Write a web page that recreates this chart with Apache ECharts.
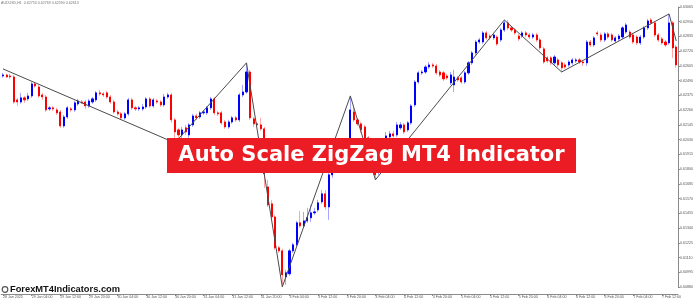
<!DOCTYPE html>
<html>
<head>
<meta charset="utf-8">
<title>Auto Scale ZigZag MT4 Indicator</title>
<script src="https://cdn.jsdelivr.net/npm/echarts@6.0.0/dist/echarts.min.js"></script>
<style>
  html, body { margin: 0; padding: 0; background: #fff; }
  #chart { width: 696px; height: 299px; }
</style>
</head>
<body>
<div id="chart"></div>
<script>
// AUDUSD H1, 28 Jan - 7 Feb 2025
const tickLabels = [
  '28 Jan 2025', '29 Jan 04:00', '29 Jan 12:00', '29 Jan 20:00', '30 Jan 04:00', '30 Jan 12:00',
  '30 Jan 20:00', '31 Jan 04:00', '31 Jan 12:00', '31 Jan 20:00', '3 Feb 04:00', '3 Feb 12:00',
  '3 Feb 20:00', '4 Feb 04:00', '4 Feb 12:00', '4 Feb 20:00', '5 Feb 04:00', '5 Feb 12:00',
  '5 Feb 20:00', '6 Feb 04:00', '6 Feb 12:00', '6 Feb 20:00', '7 Feb 04:00', '7 Feb 12:00',
];

const opens = [
  0.62527, 0.62535, 0.62527, 0.62519, 0.62340, 0.62324, 0.62356, 0.62348, 0.62371, 0.62465,
  0.62441, 0.62379, 0.62363, 0.62270, 0.62278, 0.62262, 0.62246, 0.62137, 0.62207, 0.62270,
  0.62262, 0.62309, 0.62324, 0.62324, 0.62293, 0.62324, 0.62340, 0.62395, 0.62387, 0.62395,
  0.62363, 0.62324, 0.62246, 0.62231, 0.62200, 0.62231, 0.62340, 0.62278, 0.62270, 0.62270,
  0.62285, 0.62348, 0.62293, 0.62332, 0.62324, 0.62301, 0.62363, 0.62379, 0.62184, 0.62106,
  0.62067, 0.62122, 0.62067, 0.62145, 0.62215, 0.62207, 0.62239, 0.62239, 0.62278, 0.62348,
  0.62239, 0.62239, 0.62168, 0.62129, 0.62168, 0.62200, 0.62184, 0.62379, 0.62402, 0.62558,
  0.62192, 0.62153, 0.62145, 0.62114, 0.61661, 0.61529, 0.61427, 0.61186, 0.61162, 0.60959,
  0.60983, 0.61162, 0.61209, 0.61381, 0.61357, 0.61396, 0.61420, 0.61459, 0.61482, 0.61544,
  0.61607, 0.61505, 0.61755, 0.61833, 0.61794, 0.61911, 0.61950, 0.62028, 0.62246, 0.62184,
  0.62153, 0.62129, 0.62044, 0.61950, 0.61833, 0.61778, 0.61888, 0.62012, 0.62051, 0.62075,
  0.62067, 0.62122, 0.62145, 0.62106, 0.62161, 0.62301, 0.62480, 0.62551, 0.62558, 0.62597,
  0.62613, 0.62605, 0.62558, 0.62551, 0.62527, 0.62473, 0.62457, 0.62512, 0.62512, 0.62480,
  0.62551, 0.62629, 0.62707, 0.62792, 0.62792, 0.62863, 0.62839, 0.62824, 0.62831, 0.62808,
  0.62886, 0.62941, 0.62902, 0.62886, 0.62839, 0.62839, 0.62863, 0.62847, 0.62831, 0.62847,
  0.62808, 0.62738, 0.62668, 0.62668, 0.62629, 0.62652, 0.62629, 0.62613, 0.62613, 0.62629,
  0.62644, 0.62652, 0.62636, 0.62629, 0.62792, 0.62769, 0.62863, 0.62847, 0.62808, 0.62855,
  0.62847, 0.62800, 0.62816, 0.62831, 0.62870, 0.62870, 0.62847, 0.62831, 0.62785, 0.62831,
  0.62902, 0.62964, 0.62941, 0.62847, 0.62816, 0.62792, 0.62785, 0.62941, 0.62753,
];

const closes = [
  0.62535, 0.62519, 0.62519, 0.62324, 0.62324, 0.62356, 0.62340, 0.62371, 0.62465, 0.62449,
  0.62371, 0.62363, 0.62262, 0.62278, 0.62270, 0.62239, 0.62137, 0.62207, 0.62278, 0.62262,
  0.62317, 0.62332, 0.62317, 0.62293, 0.62332, 0.62348, 0.62395, 0.62387, 0.62379, 0.62363,
  0.62324, 0.62246, 0.62231, 0.62200, 0.62231, 0.62340, 0.62278, 0.62270, 0.62278, 0.62285,
  0.62348, 0.62293, 0.62340, 0.62324, 0.62301, 0.62363, 0.62379, 0.62184, 0.62090, 0.62067,
  0.62106, 0.62090, 0.62145, 0.62215, 0.62200, 0.62239, 0.62246, 0.62278, 0.62348, 0.62239,
  0.62231, 0.62161, 0.62129, 0.62168, 0.62200, 0.62184, 0.62379, 0.62402, 0.62558, 0.62200,
  0.62153, 0.62145, 0.62114, 0.61763, 0.61521, 0.61427, 0.61186, 0.61162, 0.60975, 0.60991,
  0.61162, 0.61209, 0.61381, 0.61357, 0.61396, 0.61420, 0.61459, 0.61466, 0.61537, 0.61607,
  0.61505, 0.61755, 0.61833, 0.61794, 0.61911, 0.61950, 0.62028, 0.62262, 0.62184, 0.62153,
  0.62106, 0.62044, 0.61950, 0.61833, 0.61755, 0.61872, 0.61989, 0.62059, 0.62075, 0.62059,
  0.62145, 0.62145, 0.62090, 0.62161, 0.62293, 0.62480, 0.62551, 0.62558, 0.62597, 0.62613,
  0.62605, 0.62551, 0.62535, 0.62504, 0.62512, 0.62535, 0.62519, 0.62496, 0.62480, 0.62551,
  0.62629, 0.62707, 0.62792, 0.62808, 0.62863, 0.62824, 0.62824, 0.62847, 0.62777, 0.62886,
  0.62941, 0.62902, 0.62886, 0.62863, 0.62816, 0.62863, 0.62847, 0.62831, 0.62847, 0.62808,
  0.62746, 0.62636, 0.62644, 0.62629, 0.62675, 0.62613, 0.62590, 0.62597, 0.62636, 0.62652,
  0.62652, 0.62636, 0.62629, 0.62792, 0.62769, 0.62824, 0.62855, 0.62808, 0.62855, 0.62831,
  0.62808, 0.62824, 0.62839, 0.62902, 0.62925, 0.62831, 0.62792, 0.62785, 0.62831, 0.62902,
  0.62956, 0.62941, 0.62847, 0.62808, 0.62785, 0.62769, 0.62941, 0.62746, 0.62613,
];

const lows = [
  0.62512, 0.62512, 0.62504, 0.62309, 0.62293, 0.62309, 0.62317, 0.62332, 0.62356, 0.62434,
  0.62356, 0.62340, 0.62246, 0.62254, 0.62254, 0.62223, 0.62122, 0.62122, 0.62192, 0.62246,
  0.62246, 0.62293, 0.62309, 0.62270, 0.62278, 0.62309, 0.62324, 0.62371, 0.62363, 0.62348,
  0.62309, 0.62231, 0.62215, 0.62184, 0.62184, 0.62215, 0.62262, 0.62254, 0.62254, 0.62254,
  0.62270, 0.62278, 0.62278, 0.62309, 0.62285, 0.62285, 0.62348, 0.62161, 0.62005, 0.62028,
  0.62028, 0.62067, 0.62044, 0.62129, 0.62184, 0.62192, 0.62223, 0.62223, 0.62262, 0.62223,
  0.62215, 0.62145, 0.62114, 0.62114, 0.62153, 0.62168, 0.62168, 0.62363, 0.62387, 0.62184,
  0.62129, 0.62129, 0.62098, 0.61654, 0.61505, 0.61412, 0.61170, 0.61147, 0.60881, 0.60897,
  0.60967, 0.61147, 0.61193, 0.61342, 0.61342, 0.61381, 0.61388, 0.61443, 0.61466, 0.61529,
  0.61482, 0.61404, 0.61732, 0.61771, 0.61778, 0.61872, 0.61911, 0.62012, 0.62168, 0.62137,
  0.62083, 0.61989, 0.61911, 0.61810, 0.61716, 0.61755, 0.61872, 0.61997, 0.62036, 0.62044,
  0.62051, 0.62106, 0.62075, 0.62090, 0.62145, 0.62285, 0.62465, 0.62535, 0.62543, 0.62582,
  0.62590, 0.62535, 0.62519, 0.62488, 0.62496, 0.62457, 0.62402, 0.62480, 0.62465, 0.62465,
  0.62535, 0.62613, 0.62691, 0.62777, 0.62777, 0.62808, 0.62808, 0.62808, 0.62761, 0.62792,
  0.62870, 0.62886, 0.62870, 0.62847, 0.62800, 0.62824, 0.62831, 0.62816, 0.62816, 0.62792,
  0.62730, 0.62621, 0.62629, 0.62613, 0.62613, 0.62597, 0.62558, 0.62582, 0.62597, 0.62613,
  0.62629, 0.62621, 0.62605, 0.62605, 0.62753, 0.62753, 0.62839, 0.62792, 0.62792, 0.62816,
  0.62792, 0.62785, 0.62800, 0.62816, 0.62855, 0.62816, 0.62777, 0.62769, 0.62769, 0.62816,
  0.62886, 0.62925, 0.62831, 0.62792, 0.62769, 0.62753, 0.62769, 0.62668, 0.62590,
];

const highs = [
  0.62551, 0.62543, 0.62543, 0.62535, 0.62356, 0.62395, 0.62371, 0.62395, 0.62480, 0.62480,
  0.62457, 0.62395, 0.62379, 0.62293, 0.62293, 0.62278, 0.62262, 0.62223, 0.62293, 0.62285,
  0.62332, 0.62348, 0.62340, 0.62340, 0.62348, 0.62363, 0.62410, 0.62418, 0.62402, 0.62410,
  0.62379, 0.62340, 0.62262, 0.62246, 0.62246, 0.62356, 0.62356, 0.62293, 0.62293, 0.62309,
  0.62363, 0.62363, 0.62356, 0.62348, 0.62340, 0.62387, 0.62395, 0.62395, 0.62200, 0.62122,
  0.62129, 0.62145, 0.62161, 0.62231, 0.62231, 0.62254, 0.62262, 0.62293, 0.62363, 0.62363,
  0.62254, 0.62254, 0.62184, 0.62184, 0.62215, 0.62215, 0.62395, 0.62457, 0.62629, 0.62574,
  0.62207, 0.62168, 0.62200, 0.62129, 0.61716, 0.61560, 0.61443, 0.61201, 0.61178, 0.61014,
  0.61178, 0.61225, 0.61396, 0.61474, 0.61466, 0.61498, 0.61521, 0.61498, 0.61560, 0.61638,
  0.61638, 0.61794, 0.61872, 0.61872, 0.61950, 0.61989, 0.62044, 0.62371, 0.62278, 0.62200,
  0.62168, 0.62145, 0.62059, 0.61966, 0.61849, 0.61888, 0.62005, 0.62090, 0.62098, 0.62098,
  0.62168, 0.62168, 0.62161, 0.62176, 0.62309, 0.62496, 0.62566, 0.62574, 0.62613, 0.62636,
  0.62629, 0.62621, 0.62574, 0.62566, 0.62543, 0.62558, 0.62574, 0.62527, 0.62527, 0.62566,
  0.62644, 0.62722, 0.62808, 0.62824, 0.62878, 0.62878, 0.62855, 0.62863, 0.62847, 0.62902,
  0.62964, 0.62964, 0.62917, 0.62902, 0.62855, 0.62878, 0.62878, 0.62863, 0.62863, 0.62863,
  0.62824, 0.62753, 0.62683, 0.62683, 0.62691, 0.62668, 0.62644, 0.62629, 0.62652, 0.62668,
  0.62668, 0.62668, 0.62652, 0.62808, 0.62808, 0.62839, 0.62878, 0.62863, 0.62870, 0.62870,
  0.62863, 0.62839, 0.62855, 0.62917, 0.62941, 0.62886, 0.62863, 0.62847, 0.62847, 0.62917,
  0.62972, 0.62980, 0.62956, 0.62863, 0.62831, 0.62808, 0.63011, 0.62956, 0.62769,
];

// zigzag turning points: bar index and price
const zigzagBars = [0, 48, 68, 78, 97, 104, 140, 156, 186, 188];
const zigzagPrices = [0.62582, 0.62005, 0.62629, 0.60881, 0.62371, 0.61716, 0.62964, 0.62558, 0.63011, 0.62800];

const chart = echarts.init(document.getElementById('chart'));

const bars = opens.map((o, i) => i);
const wickData = opens.map((o, i) => [o, closes[i], lows[i], highs[i]]);
const bodyData = opens.map((o, i) => [o, closes[i], Math.min(o, closes[i]), Math.max(o, closes[i])]);
const zigzag = bars.map(() => null);
zigzagBars.forEach((b, k) => { zigzag[b] = zigzagPrices[k]; });

const axisFont = 'Liberation Sans';

const option = {
  animation: false,
  backgroundColor: '#fff',
  grid: {
    left: 0, right: 15, top: 7, bottom: 12,
  },
  xAxis: {
    type: 'category',
    data: bars,
    boundaryGap: true,
    offset: 7,
    axisLine: { lineStyle: { color: '#8a8a8a', width: 1 } },
    axisTick: {
      show: true, interval: 7, alignWithLabel: true, length: 2,
      lineStyle: { color: '#8a8a8a' },
    },
    axisLabel: {
      interval: 7,
      formatter: (v, i) => tickLabels[i / 8] || '',
      align: 'left',
      fontSize: 3.6,
      fontFamily: axisFont,
      color: '#555',
      margin: 1,
    },
    splitLine: { show: false },
  },
  yAxis: {
    type: 'value',
    position: 'right',
    min: 0.6088,
    max: 0.63065,
    interval: 0.00115,
    axisLine: { show: true, lineStyle: { color: '#8a8a8a', width: 1 } },
    axisTick: { show: true, length: 2, lineStyle: { color: '#8a8a8a' } },
    axisLabel: {
      formatter: (v) => v.toFixed(5),
      fontSize: 3.6,
      fontFamily: axisFont,
      color: '#555',
      margin: 2,
    },
    splitLine: { show: false },
  },
  series: [
    {
      name: 'wick',
      type: 'candlestick',
      data: wickData,
      barWidth: 1,
      itemStyle: {
        color: '#a6a6ff', color0: '#ffa6a6',
        borderColor: '#a6a6ff', borderColor0: '#ffa6a6', borderWidth: 1,
      },
      z: 2,
    },
    {
      name: 'body',
      type: 'candlestick',
      data: bodyData,
      barWidth: 1.6,
      itemStyle: {
        color: '#0000ff', color0: '#ff0000',
        borderColor: '#0000ff', borderColor0: '#ff0000', borderWidth: 1,
      },
      z: 3,
    },
    {
      name: 'ZigZag',
      type: 'line',
      data: zigzag,
      connectNulls: true,
      symbol: 'none',
      lineStyle: { color: '#4a4a4a', width: 1 },
      z: 4,
    },
  ],
  graphic: [
    {
      type: 'text', x: 1, y: 2.5, z: 10,
      style: {
        text: 'AUDUSD,H1  0.62753 0.62769 0.62590 0.62613',
        fontSize: 3.6, fontFamily: axisFont, fill: '#777', verticalAlign: 'middle',
      },
    },
    {
      type: 'rect', z: 100,
      shape: { x: 167, y: 138, width: 409, height: 35 },
      style: { fill: '#ec1c24' },
    },
    {
      type: 'text', x: 371.5, y: 155.5, z: 101,
      style: {
        text: 'Auto Scale ZigZag MT4 Indicator',
        fontSize: 21, fontWeight: 'bold', fontFamily: 'DejaVu Sans',
        fill: '#fff', align: 'center', verticalAlign: 'middle',
      },
    },
    {
      type: 'circle', z: 100,
      shape: { cx: 5, cy: 289.5, r: 2.8 },
      style: { fill: 'none', stroke: '#555', lineWidth: 1.2 },
    },
    {
      type: 'text', x: 10, y: 289.5, z: 100,
      style: {
        text: 'ForexMT4Indicators.com',
        fontSize: 9.3, fontWeight: 'bold', fontFamily: 'Liberation Sans',
        fill: '#111', verticalAlign: 'middle',
      },
    },
  ],
};

chart.setOption(option);
</script>
</body>
</html>
